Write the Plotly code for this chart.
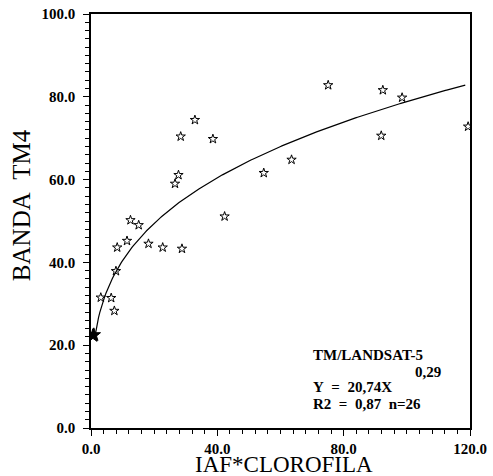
import numpy as np
import plotly.graph_objects as go

# Observed points (IAF*CLOROFILA vs BANDA TM4)
x_obs = [32.9, 28.4, 38.6, 54.7, 27.7, 26.6, 12.5, 15.1, 42.3, 11.4, 8.3, 18.2,
         22.7, 28.8, 7.9, 3.1, 6.4, 7.4, 75.1, 92.4, 98.5, 119.4, 91.9, 63.5]
y_obs = [74.4, 70.4, 69.8, 61.6, 61.1, 59.0, 50.2, 49.0, 51.1, 45.2, 43.6, 44.5,
         43.6, 43.3, 37.9, 31.5, 31.4, 28.3, 82.8, 81.6, 79.8, 72.8, 70.6, 64.8]
# overlapping points near the origin (drawn filled)
x_dense = [0.6, 0.9]
y_dense = [22.3, 22.5]

# Regression model printed on the chart: Y = 20.74 * X^0.29
coef_a = 20.74
coef_b = 0.29
x_fit = np.linspace(1.2, 118.5, 300)
y_fit = coef_a * x_fit ** coef_b

x_ticks = [0, 40, 80, 120]
y_ticks = [0, 20, 40, 60, 80, 100]

SERIF = "Liberation Serif, Times New Roman, serif"

fig = go.Figure()
fig.add_trace(go.Scatter(x=x_fit, y=y_fit, mode="lines",
                         line=dict(color="black", width=1.2), hoverinfo="skip"))
fig.add_trace(go.Scatter(x=x_obs, y=y_obs, mode="markers",
                         marker=dict(symbol="star-open", size=7, color="black",
                                     line=dict(color="black", width=1))))
fig.add_trace(go.Scatter(x=x_dense, y=y_dense, mode="markers",
                         marker=dict(symbol="star", size=10, color="black",
                                     line=dict(color="black", width=1))))

axis_common = dict(showgrid=False, zeroline=False, showline=True, linecolor="black",
                   linewidth=1.6, mirror=True, ticks="outside", tickcolor="black",
                   ticklen=6, tickwidth=1.3, tickformat=".1f", ticklabeloverflow="allow",
                   tickfont=dict(family=SERIF, size=15, color="black", weight="bold"))

fig.update_xaxes(range=[0, 120], tickvals=x_ticks,
                 minor=dict(dtick=4, ticks="outside", ticklen=4, tickcolor="black", tickwidth=1),
                 **axis_common)
fig.update_yaxes(range=[0, 100], tickvals=y_ticks, ticklabelstandoff=5,
                 minor=dict(dtick=2, ticks="outside", ticklen=4, tickcolor="black", tickwidth=1),
                 **axis_common)

annots = []
# Axis titles
annots.append(dict(text="IAF*CLOROFILA", xref="paper", yref="paper", x=0.509, y=-0.088,
                   xanchor="center", yanchor="middle", showarrow=False,
                   font=dict(family=SERIF, size=23, color="black")))
annots.append(dict(text="BANDA\u00a0\u00a0TM4", xref="paper", yref="paper", x=-0.185, y=0.538,
                   xanchor="center", yanchor="middle", showarrow=False, textangle=-90,
                   font=dict(family=SERIF, size=25, color="black")))
# Equation box
lines = [
    ("TM/LANDSAT-5", 69.5, 17.6, "left"),
    ("0,29", 111.5, 13.6, "right"),
    ("Y\u00a0\u00a0=\u00a0\u00a020,74X", 69.5, 10.0, "left"),
    ("R2\u00a0\u00a0=\u00a0\u00a00,87\u00a0\u00a0n=26", 69.5, 5.8, "left"),
]
for txt, ax_, ay_, anc in lines:
    annots.append(dict(text=txt, x=ax_, y=ay_, xref="x", yref="y", xanchor=anc,
                       yanchor="middle", showarrow=False,
                       font=dict(family=SERIF, size=15, color="black", weight="bold")))

fig.update_layout(width=493, height=476, margin=dict(l=91, r=7, t=6, b=48),
                  paper_bgcolor="white", plot_bgcolor="white", showlegend=False,
                  annotations=annots)

fig.write_html("out.html", config={"displayModeBar": False},
               post_script="document.body.style.margin='0';")
